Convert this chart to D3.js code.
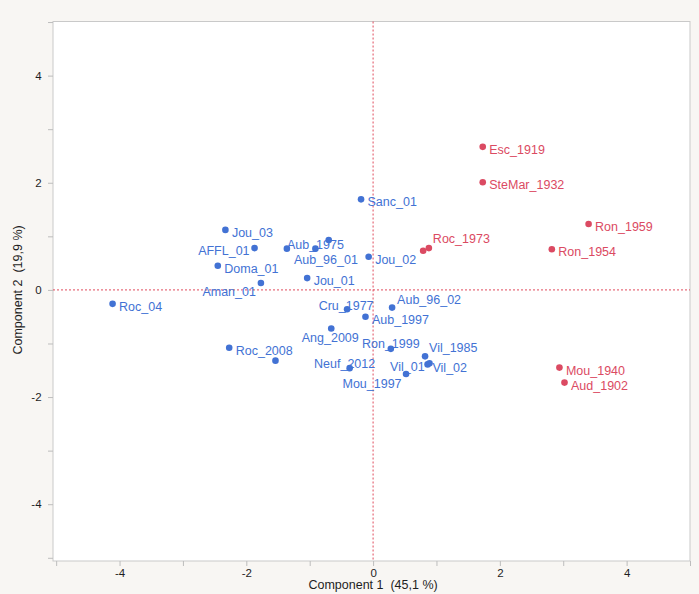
<!DOCTYPE html>
<html>
<head>
<meta charset="utf-8">
<script src="https://cdn.jsdelivr.net/npm/d3@7"></script>
<style>
  html, body { margin: 0; padding: 0; background: #f8f6f3; }
  svg { display: block; font-family: "Liberation Sans", Arial, sans-serif; }
</style>
</head>
<body>
<svg id="chart"></svg>
<script>
// cluster 1 (blue)
const blueNames = ["Sanc_01", "Jou_03", "AFFL_01", "Aub_1975", "Aub_96_01", "", "Doma_01", "Aman_01",
  "Jou_02", "Jou_01", "Roc_04", "Cru_1977", "Aub_96_02", "Aub_1997", "Ang_2009", "Roc_2008", "",
  "Ron_1999", "Vil_1985", "Vil_01", "Vil_02", "Neuf_2012", "Mou_1997"];
const blueComp1 = [-0.19, -2.33, -1.87, -0.91, -1.36, -0.70, -2.45, -1.77,
  -0.07, -1.04, -4.11, -0.41, 0.30, -0.12, -0.66, -2.27, -1.54,
  0.28, 0.82, 0.86, 0.89, -0.37, 0.52];
const blueComp2 = [1.69, 1.12, 0.78, 0.77, 0.77, 0.93, 0.45, 0.13,
  0.62, 0.22, -0.26, -0.36, -0.33, -0.50, -0.72, -1.08, -1.32,
  -1.10, -1.24, -1.39, -1.37, -1.46, -1.57];

// cluster 2 (red)
const redNames = ["Esc_1919", "SteMar_1932", "Ron_1959", "Ron_1954", "Roc_1973", "", "Mou_1940", "Aud_1902"];
const redComp1 = [1.73, 1.73, 3.40, 2.82, 0.88, 0.79, 2.94, 3.02];
const redComp2 = [2.67, 2.01, 1.23, 0.76, 0.78, 0.73, -1.45, -1.73];

const majorTicks = [-4, -2, 0, 2, 4];
const minorTicks = [-5, -3, -1, 1, 3, 5];
const xTitle = "Component 1  (45,1 %)";
const yTitle = "Component 2  (19,9 %)";

// where each label sits relative to its point: [anchor, dx, dy]
const labelPlacement = {
  "Aman_01": ["end", -5, 9.5],
  "AFFL_01": ["end", -5, 3],
  "Aub_1975": ["middle", 0, -4],
  "Aub_96_01": ["start", 7, 11],
  "Roc_1973": ["start", 4, -9],
  "Cru_1977": ["middle", -1, -3.5],
  "Aub_96_02": ["start", 5, -8],
  "Ang_2009": ["middle", -1, 10],
  "Ron_1999": ["middle", 0, -5],
  "Vil_1985": ["start", 4, -8],
  "Vil_01": ["end", -3, 3],
  "Vil_02": ["start", 3, 5],
  "Neuf_2012": ["middle", -5, -4],
  "Mou_1997": ["middle", -34, 10]
};

const width = 699;
const height = 594;
const plotLeft = 53, plotRight = 690, plotTop = 21.5, plotBottom = 561;

const blue = "#4272d4";
const red = "#db4a62";

const x = d3.scaleLinear().domain([-5.05, 5.0]).range([plotLeft, plotRight]);
const y = d3.scaleLinear().domain([-5.06, 5.01]).range([plotBottom, plotTop]);

function buildPoints(names, c1, c2, color) {
  return names.map((n, i) => ({ name: n, c1: c1[i], c2: c2[i], color: color }));
}
const points = buildPoints(blueNames, blueComp1, blueComp2, blue)
  .concat(buildPoints(redNames, redComp1, redComp2, red));

const svg = d3.select("#chart").attr("width", width).attr("height", height);

// plot area
svg.append("rect")
  .attr("x", plotLeft).attr("y", plotTop)
  .attr("width", plotRight - plotLeft).attr("height", plotBottom - plotTop)
  .attr("fill", "#fff").attr("stroke", "#c9c9c9").attr("stroke-width", 1);

// axes
const allTicks = majorTicks.concat(minorTicks);
const xAxis = d3.axisBottom(x).tickValues(allTicks).tickSize(5).tickSizeOuter(0)
  .tickFormat(d => majorTicks.includes(d) ? d : "");
const yAxis = d3.axisLeft(y).tickValues(allTicks).tickSize(5).tickSizeOuter(0)
  .tickFormat(d => majorTicks.includes(d) ? d : "");

function styleAxis(g) {
  g.select(".domain").remove();
  g.selectAll("line").attr("stroke", "#bdbdbd");
  g.selectAll("text").attr("fill", "#1e1e1e").attr("font-size", 11.5);
}

svg.append("g")
  .attr("transform", `translate(0,${plotBottom})`)
  .call(xAxis).call(styleAxis);

svg.append("g")
  .attr("transform", `translate(${plotLeft},0)`)
  .call(yAxis).call(styleAxis)
  .selectAll("text").attr("dx", "-0.3em");

// zero reference lines
svg.append("line")
  .attr("x1", x(0)).attr("x2", x(0)).attr("y1", plotTop).attr("y2", plotBottom)
  .attr("stroke", "#e04a5c").attr("stroke-width", 1).attr("stroke-dasharray", "2,2");
svg.append("line")
  .attr("x1", plotLeft).attr("x2", plotRight).attr("y1", y(0)).attr("y2", y(0))
  .attr("stroke", "#e04a5c").attr("stroke-width", 1).attr("stroke-dasharray", "2,2");

// titles
svg.append("text")
  .attr("x", x(0)).attr("y", 589)
  .attr("text-anchor", "middle").attr("font-size", 12.5).attr("fill", "#1e1e1e")
  .style("white-space", "pre")
  .text(xTitle);

svg.append("text")
  .attr("transform", `translate(22,${y(0)}) rotate(-90)`)
  .attr("text-anchor", "middle").attr("font-size", 12.5).attr("fill", "#1e1e1e")
  .style("white-space", "pre")
  .text(yTitle);

// points
svg.append("g")
  .selectAll("circle")
  .data(points)
  .join("circle")
  .attr("cx", d => x(d.c1))
  .attr("cy", d => y(d.c2))
  .attr("r", 3.3)
  .attr("fill", d => d.color);

// labels
svg.append("g")
  .selectAll("text")
  .data(points.filter(d => d.name !== ""))
  .join("text")
  .attr("x", d => x(d.c1) + (labelPlacement[d.name] ? labelPlacement[d.name][1] : 6.5))
  .attr("y", d => y(d.c2) + (labelPlacement[d.name] ? labelPlacement[d.name][2] : 3))
  .attr("text-anchor", d => labelPlacement[d.name] ? labelPlacement[d.name][0] : "start")
  .attr("dominant-baseline", "central")
  .attr("font-size", 12.5)
  .attr("fill", d => d.color)
  .text(d => d.name);
</script>
</body>
</html>
